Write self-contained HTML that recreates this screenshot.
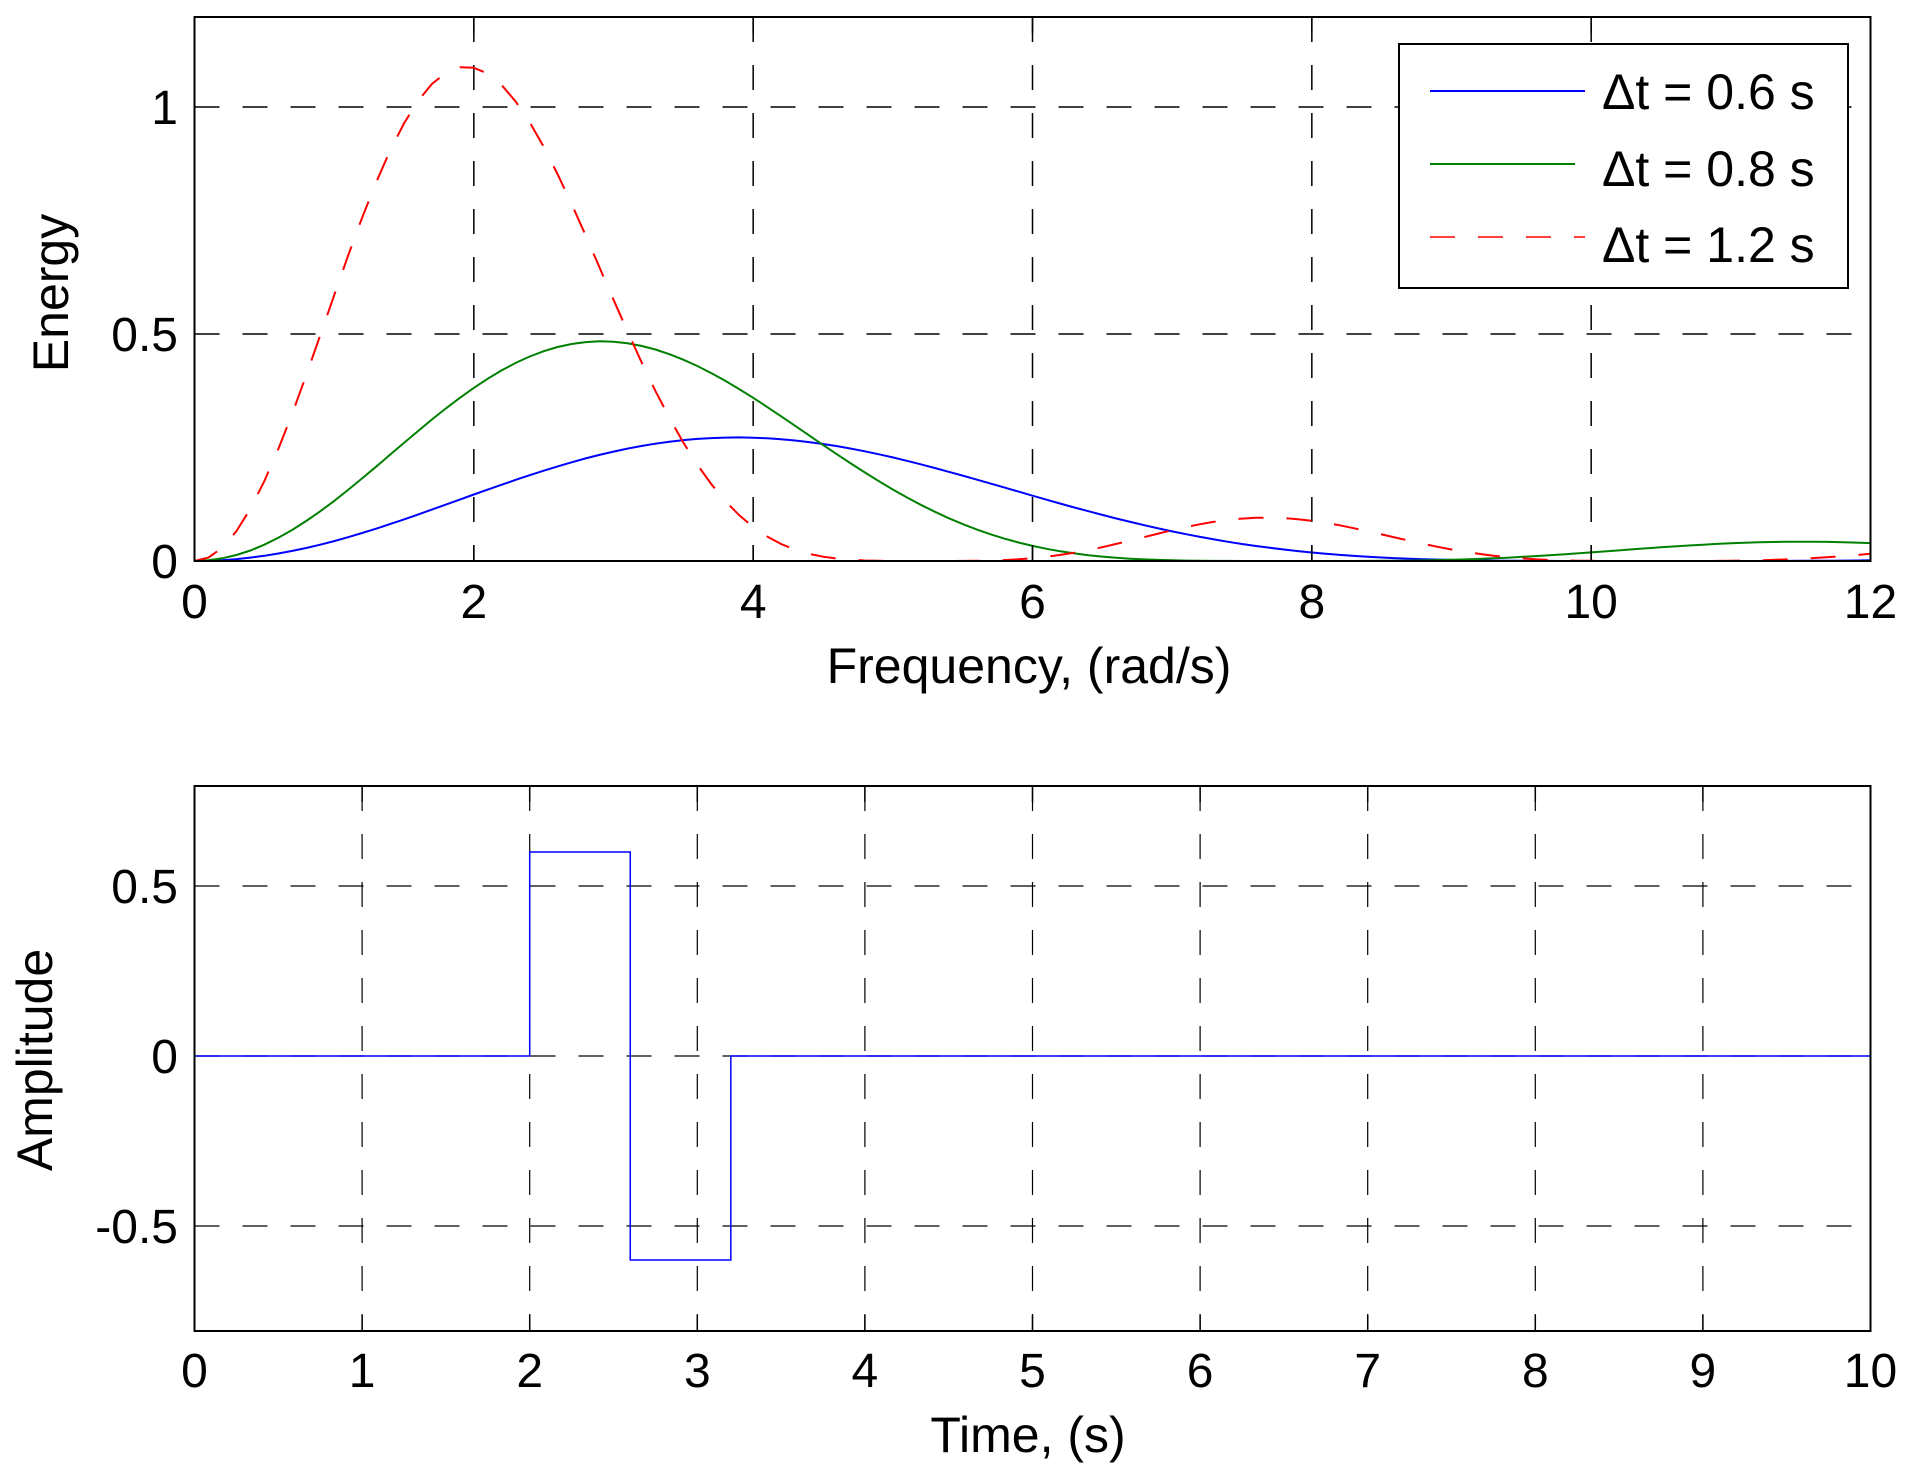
<!DOCTYPE html>
<html><head><meta charset="utf-8"><style>
html,body{margin:0;padding:0;background:#fff;}
svg{display:block;}
text{font-family:"Liberation Sans",Arial,sans-serif;fill:#000;}
</style></head><body>
<svg id="s" width="1914" height="1478" viewBox="0 0 1914 1478" xmlns="http://www.w3.org/2000/svg">
<rect width="1914" height="1478" fill="#fff"/>
<g id="grid1" stroke="#000" stroke-width="1.5" stroke-dasharray="25 23" fill="none"></g>
<g id="grid2" stroke="#000" stroke-width="1.2" stroke-dasharray="25 23" fill="none"></g>
<g id="series"></g>
<!-- axes boxes -->
<rect x="194.5" y="17" width="1676" height="544" fill="none" stroke="#000" stroke-width="2"/>
<rect x="194.5" y="786" width="1676" height="545" fill="none" stroke="#000" stroke-width="2"/>
<g id="ticks" stroke="#000" stroke-width="1.5"></g>
<g id="labels" font-size="48"></g>
<!-- axis labels -->
<text x="1029" y="683" font-size="50" text-anchor="middle">Frequency, (rad/s)</text>
<text x="1028" y="1452" font-size="50" text-anchor="middle">Time, (s)</text>
<text transform="translate(68,293) rotate(-90)" font-size="50" text-anchor="middle">Energy</text>
<text transform="translate(52,1060) rotate(-90)" font-size="50" text-anchor="middle">Amplitude</text>
<!-- legend -->
<rect x="1399" y="44" width="449" height="244" fill="#fff" stroke="#000" stroke-width="2"/>
<line x1="1430" y1="91" x2="1585" y2="91" stroke="#0000ff" stroke-width="2"/>
<line x1="1430" y1="164" x2="1575" y2="164" stroke="#008000" stroke-width="2"/>
<line x1="1430" y1="237" x2="1585" y2="237" stroke="#ff0000" stroke-width="1.5" stroke-dasharray="25 23"/>
<text x="1602" y="109" font-size="50">Δt = 0.6 s</text>
<text x="1602" y="186" font-size="50">Δt = 0.8 s</text>
<text x="1602" y="262" font-size="50">Δt = 1.2 s</text>
</svg>
<script>
var NS="http://www.w3.org/2000/svg";
function el(p,t,a){var e=document.createElementNS(NS,t);for(var k in a)e.setAttribute(k,a[k]);document.getElementById(p).appendChild(e);return e;}
var L=194.5,R=1870.5;
function X1(w){return L+(R-L)*w/12;}
function Y1(v){return 561-454*v;}
function X2(t){return L+(R-L)*t/10;}
function Y2(v){return 1056-340*v;}
// grid top
for(var i=2;i<12;i+=2){el("grid1","line",{x1:X1(i),y1:17,x2:X1(i),y2:561});}
[0.5,1].forEach(function(v){el("grid1","line",{x1:L,y1:Y1(v),x2:R,y2:Y1(v)});});
for(var i=1;i<10;i++){el("grid2","line",{x1:X2(i),y1:786,x2:X2(i),y2:1331});}
[0.5,0,-0.5].forEach(function(v){el("grid2","line",{x1:L,y1:Y2(v),x2:R,y2:Y2(v)});});
// tick labels
for(var i=0;i<=12;i+=2){var t=el("labels","text",{x:X1(i),y:618,"text-anchor":"middle"});t.textContent=i;}
[[0,"0"],[0.5,"0.5"],[1,"1"]].forEach(function(a){var t=el("labels","text",{x:178,y:Y1(a[0])+17,"text-anchor":"end"});t.textContent=a[1];});
for(var i=0;i<=10;i++){var t=el("labels","text",{x:X2(i),y:1387,"text-anchor":"middle"});t.textContent=i;}
[[0.5,"0.5"],[0,"0"],[-0.5,"-0.5"]].forEach(function(a){var t=el("labels","text",{x:178,y:Y2(a[0])+17,"text-anchor":"end"});t.textContent=a[1];});
// ticks
for(var i=0;i<=12;i+=2){var x=X1(i);el("ticks","line",{x1:x,y1:561,x2:x,y2:545});el("ticks","line",{x1:x,y1:17,x2:x,y2:33});}
for(var i=0;i<=10;i++){var x=X2(i);el("ticks","line",{x1:x,y1:1331,x2:x,y2:1315});el("ticks","line",{x1:x,y1:786,x2:x,y2:802});}
// energy curves
function E(w,T){if(w<1e-6)return 0;var s=Math.sin(w*T/2);var a=2.4*s*s/w;return a*a;}
[[0.6,"#0000ff",null],[0.8,"#008000",null],[1.2,"#ff0000","25 23"]].forEach(function(c){
 var pts=[];for(var w=0;w<=12.0001;w+=0.1){pts.push(X1(w).toFixed(1)+","+Y1(E(w,c[0])).toFixed(1));}
 var a={points:pts.join(" "),fill:"none",stroke:c[1],"stroke-width":2};if(c[2])a["stroke-dasharray"]=c[2];
 el("series","polyline",a);
});
// pulse
var p=[[0,0],[2,0],[2,0.6],[2.6,0.6],[2.6,-0.6],[3.2,-0.6],[3.2,0],[10,0]];
el("series","polyline",{points:p.map(function(q){return X2(q[0])+","+Y2(q[1]);}).join(" "),fill:"none",stroke:"#0000ff","stroke-width":1.5});
</script>
</body></html>
